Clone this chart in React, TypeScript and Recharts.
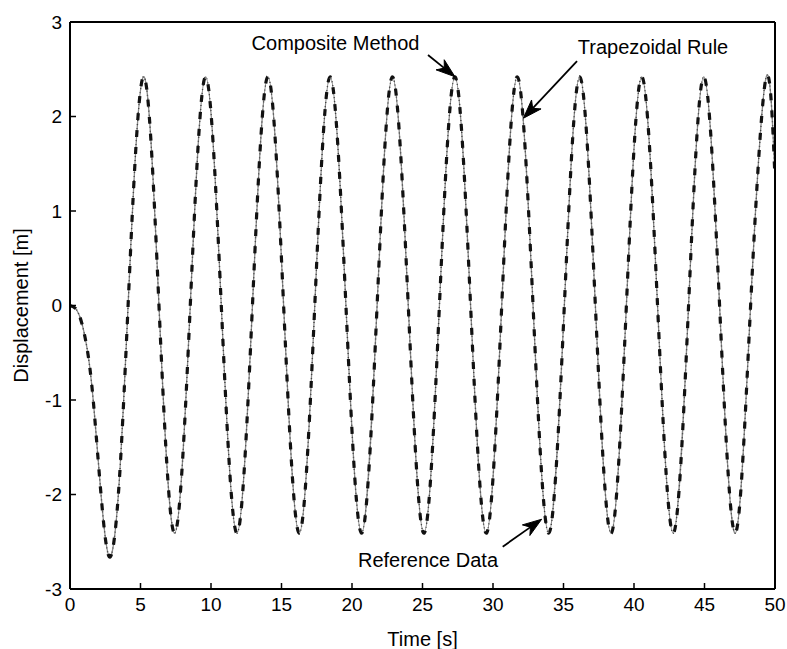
import React from 'react';
import { LineChart, Line, XAxis, YAxis, ReferenceLine, ReferenceDot } from 'recharts';

// ---- data ----
const timeS = [
  0, 0.65, 1.3, 1.75, 2.2, 2.79, 3.43, 4.12, 5.2, 6.31, 7.42, 8.53, 9.62, 10.73, 11.84,
  12.94, 14.04, 15.15, 16.26, 17.36, 18.45, 19.57, 20.68, 21.78, 22.87, 23.99, 25.1,
  26.2, 27.3, 28.41, 29.52, 30.62, 31.72, 32.84, 33.95, 35.06, 36.15, 37.26, 38.37,
  39.46, 40.55, 41.67, 42.78, 43.87, 44.95, 46.07, 47.18, 48.27, 49.35, 50,
];
const referenceData = [
  0, -0.1, -0.54, -1.18, -2.0, -2.66, -2.0, 0, 2.42, 0, -2.41, 0, 2.42, 0, -2.41,
  0, 2.42, 0, -2.41, 0, 2.42, 0, -2.41, 0, 2.42, 0, -2.41,
  0, 2.42, 0, -2.41, 0, 2.42, 0, -2.41, 0, 2.42, 0, -2.41,
  0, 2.42, 0, -2.41, 0, 2.42, 0, -2.41, 0, 2.4, 1.35,
];
const compositeMethod = [
  0, -0.1, -0.54, -1.18, -2.0, -2.66, -2.0, 0, 2.42, 0, -2.41, 0, 2.42, 0, -2.41,
  0, 2.42, 0, -2.41, 0, 2.42, 0, -2.41, 0, 2.42, 0, -2.41,
  0, 2.42, 0, -2.41, 0, 2.42, 0, -2.41, 0, 2.42, 0, -2.41,
  0, 2.42, 0, -2.41, 0, 2.42, 0, -2.41, 0, 2.4, 1.35,
];
const trapezoidalRule = [
  0, -0.1, -0.54, -1.18, -2.0, -2.66, -2.0, 0, 2.42, 0, -2.41, 0, 2.42, 0, -2.41,
  0, 2.42, 0, -2.41, 0, 2.42, 0, -2.41, 0, 2.42, 0, -2.41,
  0, 2.42, 0, -2.41, 0, 2.42, 0, -2.41, 0, 2.42, 0, -2.41,
  0, 2.42, 0, -2.41, 0, 2.42, 0, -2.41, 0, 2.4, 1.35,
];
const xTicks = [0, 5, 10, 15, 20, 25, 30, 35, 40, 45, 50];
const yTicks = [-3, -2, -1, 0, 1, 2, 3];

// annotation anchors in data coordinates
const annotationTexts = [
  { label: 'Composite Method', x: 18.83, y: 2.778 },
  { label: 'Trapezoidal Rule', x: 41.35, y: 2.735 },
  { label: 'Reference Data', x: 25.39, y: -2.693 },
];
const annotationArrows = [
  { from: { x: 25.39, y: 2.651 }, to: { x: 27.3, y: 2.421 } },
  { from: { x: 35.96, y: 2.587 }, to: { x: 32.15, y: 1.981 } },
  { from: { x: 30.69, y: -2.552 }, to: { x: 33.45, y: -2.262 } },
];

const data = timeS.map((t, i) => ({
  t,
  ref: referenceData[i],
  comp: compositeMethod[i],
  trap: trapezoidalRule[i],
}));

const FONT = '"Liberation Sans", Arial, Helvetica, sans-serif';

const Arrow = (props: any) => {
  const { x1, y1, x2, y2 } = props;
  const dx = x2 - x1;
  const dy = y2 - y1;
  const len = Math.sqrt(dx * dx + dy * dy) || 1;
  const ux = dx / len;
  const uy = dy / len;
  const L = 19;
  const W = 6.5;
  const bx = x2 - ux * L;
  const by = y2 - uy * L;
  const nx = x2 - ux * L * 0.72;
  const ny = y2 - uy * L * 0.72;
  const px = -uy;
  const py = ux;
  const pts = `${x2},${y2} ${bx + px * W},${by + py * W} ${nx},${ny} ${bx - px * W},${by - py * W}`;
  return (
    <g>
      <line x1={x1} y1={y1} x2={nx} y2={ny} stroke="#000" strokeWidth={1.8} />
      <polygon points={pts} fill="#000" stroke="#000" strokeWidth={1} />
    </g>
  );
};

export default function App() {
  return (
    <div style={{ width: 787, height: 649 }}>
      <style>{'body{margin:0;background:#fff}'}</style>
      <LineChart
        width={787}
        height={649}
        data={data}
        margin={{ top: 21, right: 11, left: 0, bottom: 0 }}
      >
        <XAxis
          xAxisId="b"
          dataKey="t"
          type="number"
          domain={[0, 50]}
          ticks={xTicks}
          interval={0}
          allowDataOverflow
          height={60}
          tickSize={-6}
          tickMargin={15}
          axisLine={{ stroke: '#000', strokeWidth: 2 }}
          tickLine={{ stroke: '#000', strokeWidth: 1.5 }}
          tick={{ fill: '#000', fontSize: 19, fontFamily: FONT }}
          label={{
            value: 'Time [s]',
            position: 'insideBottom',
            offset: 3,
            fill: '#000',
            fontSize: 20,
            fontFamily: FONT,
          }}
        />
        <XAxis
          xAxisId="t"
          orientation="top"
          dataKey="t"
          type="number"
          domain={[0, 50]}
          ticks={xTicks}
          interval={0}
          height={1}
          tickSize={-6}
          tick={false}
          axisLine={{ stroke: '#000', strokeWidth: 2 }}
          tickLine={{ stroke: '#000', strokeWidth: 1.5 }}
        />
        <YAxis
          yAxisId="l"
          type="number"
          domain={[-3, 3]}
          ticks={yTicks}
          interval={0}
          allowDataOverflow
          width={70}
          tickSize={-6}
          tickMargin={14}
          axisLine={{ stroke: '#000', strokeWidth: 2 }}
          tickLine={{ stroke: '#000', strokeWidth: 1.5 }}
          tick={{ fill: '#000', fontSize: 19, fontFamily: FONT }}
          label={{
            value: 'Displacement [m]',
            angle: -90,
            position: 'insideLeft',
            offset: 21,
            fill: '#000',
            fontSize: 20,
            fontFamily: FONT,
            style: { textAnchor: 'middle' },
          }}
        />
        <YAxis
          yAxisId="r"
          orientation="right"
          type="number"
          domain={[-3, 3]}
          ticks={yTicks}
          interval={0}
          width={1}
          tickSize={-6}
          tick={false}
          axisLine={{ stroke: '#000', strokeWidth: 2 }}
          tickLine={{ stroke: '#000', strokeWidth: 1.5 }}
        />
        <Line
          xAxisId="b"
          yAxisId="l"
          type="natural"
          dataKey="trap"
          name="Trapezoidal Rule"
          stroke="#8a8a8a"
          strokeWidth={1.3}
          dot={false}
          isAnimationActive={false}
        />
        <Line
          xAxisId="b"
          yAxisId="l"
          type="natural"
          dataKey="comp"
          name="Composite Method"
          stroke="#444"
          strokeWidth={1.4}
          strokeDasharray="1 3"
          dot={false}
          isAnimationActive={false}
        />
        <Line
          xAxisId="b"
          yAxisId="l"
          type="natural"
          dataKey="ref"
          name="Reference Data"
          stroke="#111"
          strokeWidth={3.2}
          strokeDasharray="7 10"
          dot={false}
          isAnimationActive={false}
        />
        {annotationArrows.map((a, i) => (
          <ReferenceLine
            key={`arr${i}`}
            xAxisId="b"
            yAxisId="l"
            segment={[a.from, a.to]}
            ifOverflow="visible"
            shape={Arrow}
          />
        ))}
        {annotationTexts.map((a, i) => (
          <ReferenceDot
            key={`txt${i}`}
            xAxisId="b"
            yAxisId="l"
            x={a.x}
            y={a.y}
            r={0}
            fill="none"
            stroke="none"
            ifOverflow="visible"
            label={{
              value: a.label,
              position: 'center',
              fill: '#000',
              fontSize: 20,
              fontFamily: FONT,
            }}
          />
        ))}
      </LineChart>
    </div>
  );
}
